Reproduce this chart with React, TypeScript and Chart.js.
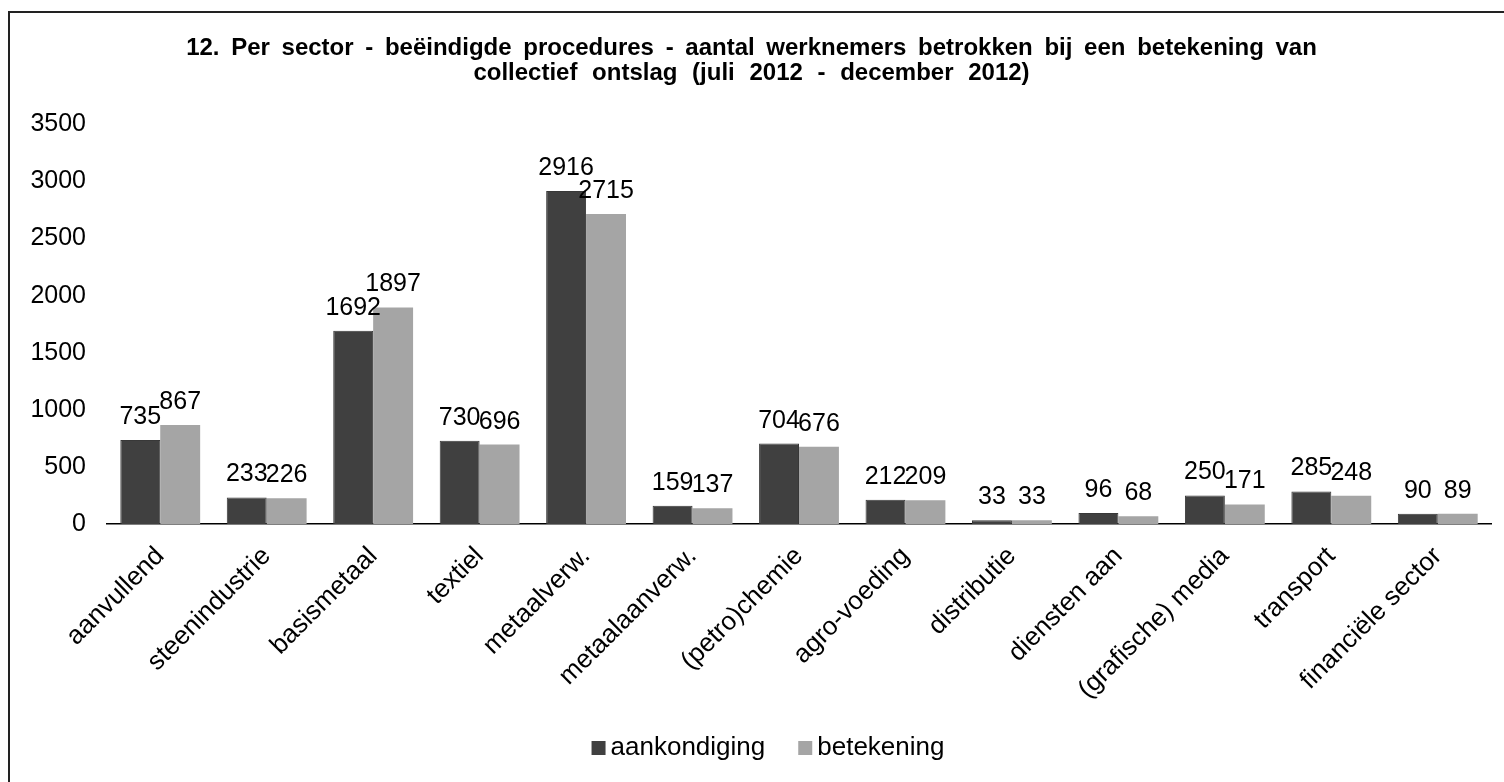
import React, { useEffect, useRef } from "react";
import { Chart, registerables } from "chart.js";

Chart.register(...registerables);

const categories = [
  "aanvullend",
  "steenindustrie",
  "basismetaal",
  "textiel",
  "metaalverw.",
  "metaalaanverw.",
  "(petro)chemie",
  "agro-voeding",
  "distributie",
  "diensten aan",
  "(grafische) media",
  "transport",
  "financiële sector",
];

const aankondiging = [735, 233, 1692, 730, 2916, 159, 704, 212, 33, 96, 250, 285, 90];
const betekening = [867, 226, 1897, 696, 2715, 137, 676, 209, 33, 68, 171, 248, 89];

const yTicks = [0, 500, 1000, 1500, 2000, 2500, 3000, 3500];

const titleLines = [
  "12. Per sector - beëindigde procedures - aantal werknemers betrokken bij een betekening van",
  "collectief ontslag (juli 2012 - december 2012)",
];

const FONT = "'Liberation Sans', Arial, sans-serif";
const TITLE_SIZE = 24;
const TITLE_LH = 1.05;
const titleWordSpacing = ["5px", "8px"];

const valueLabels = {
  id: "valueLabels",
  afterDatasetsDraw(chart: any) {
    const ctx = chart.ctx;
    ctx.save();
    ctx.font = `25px ${FONT}`;
    ctx.fillStyle = "#000";
    ctx.textAlign = "center";
    ctx.textBaseline = "alphabetic";
    chart.data.datasets.forEach((ds: any, i: number) => {
      const meta = chart.getDatasetMeta(i);
      meta.data.forEach((bar: any, j: number) => {
        ctx.fillText(String(ds.data[j]), bar.x, bar.y - 16);
      });
    });
    ctx.restore();
  },
};

const customTitle = {
  id: "customTitle",
  afterDraw(chart: any) {
    const t = chart.titleBlock;
    if (!t) return;
    const ctx = chart.ctx;
    ctx.save();
    ctx.font = `bold ${TITLE_SIZE}px ${FONT}`;
    ctx.fillStyle = "#000";
    ctx.textAlign = "center";
    ctx.textBaseline = "middle";
    const lh = TITLE_SIZE * TITLE_LH;
    const cx = (t.left + t.right) / 2 + 1;
    titleLines.forEach((line, i) => {
      (ctx as any).wordSpacing = titleWordSpacing[i];
      ctx.fillText(line, cx, t.top + lh * (i + 0.5));
    });
    ctx.restore();
  },
};

const customLegend = {
  id: "customLegend",
  afterDraw(chart: any) {
    const ctx = chart.ctx;
    ctx.save();
    ctx.font = `26px ${FONT}`;
    ctx.textBaseline = "alphabetic";
    ctx.textAlign = "left";
    const box = 14;
    const gapText = 5;
    const gapItem = 33;
    const items = chart.data.datasets.map((ds: any) => ({
      label: ds.label,
      color: ds.backgroundColor,
      w: ctx.measureText(ds.label).width,
    }));
    const total = items.reduce((s: number, it: any) => s + box + gapText + it.w, 0) + gapItem * (items.length - 1);
    const centerX = chart.width / 2 + 11;
    const baseline = chart.height - 27;
    let x = centerX - total / 2;
    items.forEach((it: any) => {
      ctx.fillStyle = it.color;
      ctx.fillRect(x, baseline - box, box, box);
      x += box + gapText;
      ctx.fillStyle = "#000";
      ctx.fillText(it.label, x, baseline);
      x += it.w + gapItem;
    });
    ctx.restore();
  },
};

export default function App() {
  const ref = useRef<HTMLCanvasElement | null>(null);

  useEffect(() => {
    if (!ref.current) return;
    const chart = new Chart(ref.current, {
      type: "bar",
      data: {
        labels: categories,
        datasets: [
          {
            label: "aankondiging",
            data: aankondiging,
            backgroundColor: "#404040",
            borderColor: "#383838",
            borderWidth: 1,
            categoryPercentage: 0.75,
            barPercentage: 1,
          },
          {
            label: "betekening",
            data: betekening,
            backgroundColor: "#a5a5a5",
            borderWidth: 0,
            categoryPercentage: 0.75,
            barPercentage: 1,
          },
        ],
      },
      options: {
        animation: false,
        responsive: false,
        maintainAspectRatio: false,
        layout: { padding: { top: 23, right: 13, bottom: 56, left: 0 } },
        plugins: {
          title: {
            display: true,
            text: titleLines,
            color: "rgba(0,0,0,0)",
            font: { family: FONT, size: TITLE_SIZE, weight: "bold", lineHeight: TITLE_LH },
            padding: { top: 0, bottom: 38 },
          },
          legend: { display: false },
          tooltip: { enabled: false },
        },
        scales: {
          x: {
            grid: { display: false, drawTicks: false },
            border: { display: true, color: "#000", width: 1.5 },
            ticks: {
              color: "#000",
              font: { family: FONT, size: 26 },
              minRotation: 45,
              maxRotation: 45,
              padding: 17,
              autoSkip: false,
            },
            afterFit(scale: any) {
              scale.height = 202;
            },
          },
          y: {
            min: 0,
            max: 3500,
            afterBuildTicks(scale: any) {
              scale.ticks = yTicks.map((v) => ({ value: v }));
            },
            grid: { display: false, drawTicks: false },
            border: { display: false },
            ticks: {
              color: "#000",
              font: { family: FONT, size: 25 },
              padding: 21,
              callback: (v: any) => String(v),
            },
            afterFit(scale: any) {
              scale.width = 97;
            },
          },
        },
      },
      plugins: [valueLabels, customTitle, customLegend],
    });
    return () => chart.destroy();
  }, []);

  return (
    <div
      style={{
        position: "absolute",
        left: 8,
        top: 11,
        width: 1496,
        height: 771,
        boxSizing: "border-box",
        borderTop: "2px solid #222",
        borderLeft: "2px solid #222",
        background: "#fff",
        overflow: "hidden",
      }}
    >
      <canvas ref={ref} width={1494} height={769} style={{ display: "block" }} />
    </div>
  );
}
